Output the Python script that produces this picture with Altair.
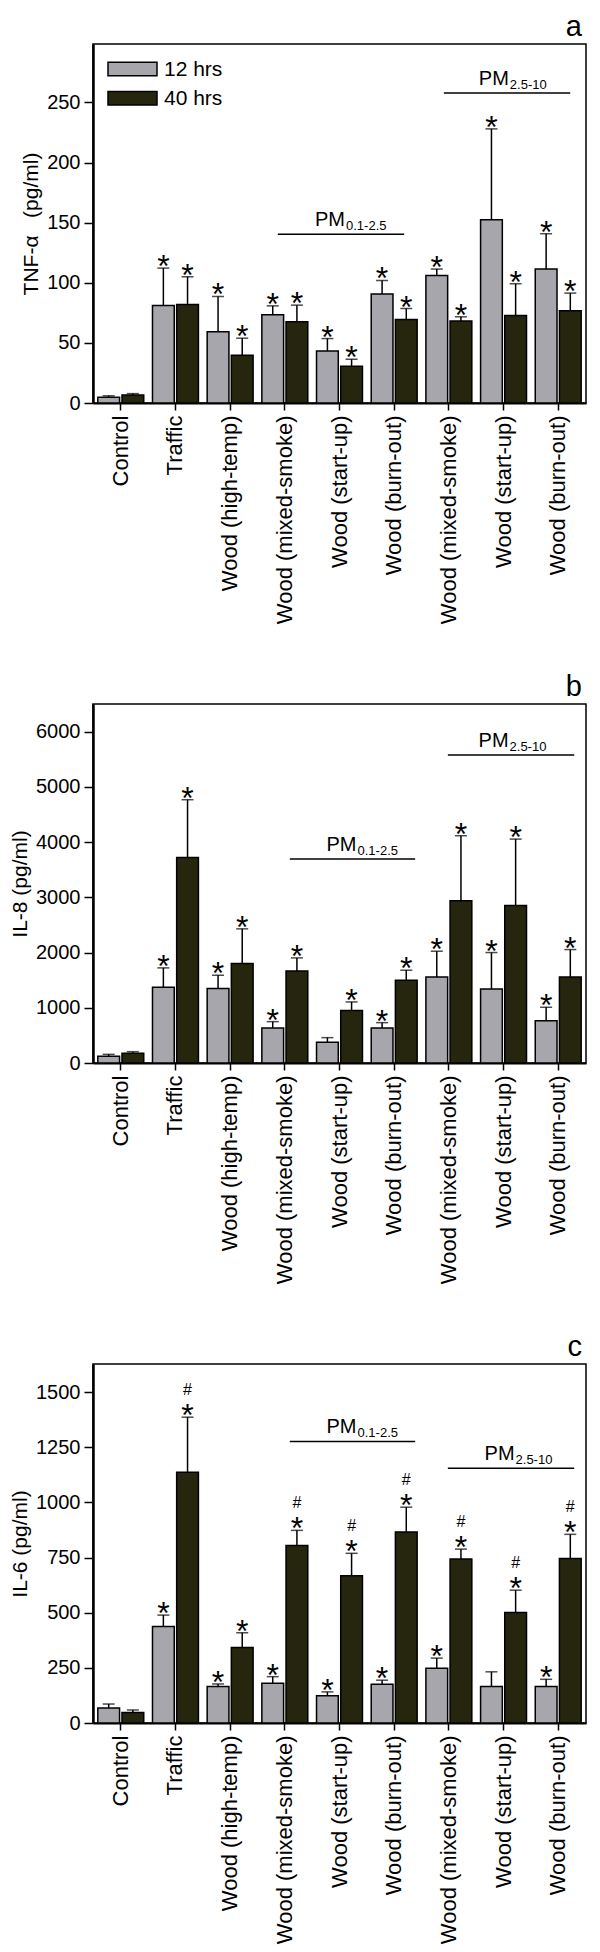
import json
import altair as alt
import pandas as pd

# ---------------- data ----------------
categories = ["Control", "Traffic", "Wood (high-temp)", "Wood (mixed-smoke)",
              "Wood (start-up)", "Wood (burn-out)", "Wood (mixed-smoke)",
              "Wood (start-up)", "Wood (burn-out)"]
series_names = ["12 hrs", "40 hrs"]

# Panel a: TNF-alpha (pg/ml)
tnf_12 = [4.7, 81.1, 59.2, 73.3, 43.3, 90.6, 106.1, 152.5, 111.4]
tnf_12_err = [1.3, 31.1, 29.4, 7.5, 10.3, 11.3, 5.3, 75.5, 29.4]
tnf_40 = [6.7, 81.9, 39.7, 67.5, 30.6, 69.4, 68.3, 72.8, 76.7]
tnf_40_err = [1.1, 23.1, 14.2, 13.9, 5.8, 9.2, 3.4, 26.4, 14.7]
tnf_star_12 = [0, 1, 1, 1, 1, 1, 1, 1, 1]
tnf_star_40 = [0, 1, 1, 1, 1, 1, 1, 1, 1]
tnf_hash_40 = [0, 0, 0, 0, 0, 0, 0, 0, 0]
tnf_ticks = [0, 50, 100, 150, 200, 250]
tnf_max = 298.6

# Panel b: IL-8 (pg/ml)
il8_12 = [121, 1372, 1347, 634, 375, 634, 1559, 1341, 767]
il8_12_err = [36, 350, 242, 115, 84, 97, 465, 659, 242]
il8_40 = [175, 3722, 1801, 1668, 949, 1498, 2937, 2852, 1559]
il8_40_err = [30, 1045, 628, 235, 157, 182, 1178, 1202, 495]
il8_star_12 = [0, 1, 1, 1, 0, 1, 1, 1, 1]
il8_star_40 = [0, 1, 1, 1, 1, 1, 1, 1, 1]
il8_hash_40 = [0, 0, 0, 0, 0, 0, 0, 0, 0]
il8_ticks = [0, 1000, 2000, 3000, 4000, 5000, 6000]
il8_max = 6500

# Panel c: IL-6 (pg/ml)
il6_12 = [68, 437, 165, 180, 123, 176, 248, 165, 165]
il6_12_err = [18, 52, 12, 30, 18, 18, 46, 67, 33]
il6_40 = [48, 1136, 342, 805, 667, 866, 743, 501, 746]
il6_40_err = [11, 250, 67, 68, 102, 112, 45, 101, 109]
il6_star_12 = [0, 1, 1, 1, 1, 1, 1, 0, 1]
il6_star_40 = [0, 1, 1, 1, 1, 1, 1, 1, 1]
il6_hash_40 = [0, 1, 0, 1, 1, 1, 1, 1, 1]
il6_ticks = [0, 250, 500, 750, 1000, 1250, 1500]
il6_max = 1627

# size-fraction brackets: (subscript, first category index, last category index, level)
tnf_brackets = [("0.1-2.5", 3, 5, 140.3), ("2.5-10", 6, 8, 257.8)]
il8_brackets = [("0.1-2.5", 3, 5, 3692), ("2.5-10", 6, 8, 5577)]
il6_brackets = [("0.1-2.5", 3, 5, 1276), ("2.5-10", 6, 8, 1155)]

# ---------------- style ----------------
FONT = "Liberation Sans"
COLORS = ["#a6a6ac", "#26260f"]
W, H = 493, 359

label_expr = json.dumps(categories) + "[datum.value]"


def table(m12, e12, m40, e40, s12, s40, h40):
    rows = []
    for i in range(len(categories)):
        rows.append(dict(idx=i, series=series_names[0], mean=m12[i],
                         top=m12[i] + e12[i], star=s12[i], hash=0))
        rows.append(dict(idx=i, series=series_names[1], mean=m40[i],
                         top=m40[i] + e40[i], star=s40[i], hash=h40[i]))
    return pd.DataFrame(rows)


def panel(letter, df, ytitle, ymax, ticks, brackets, offs, show_legend):
    xscale = alt.Scale(paddingInner=0.16, paddingOuter=0.088)
    xenc = alt.X("idx:O", scale=xscale,
                 axis=alt.Axis(title=None, labelExpr=label_expr, labelAngle=-90,
                               labelFontSize=22, labelPadding=5, labelLimit=0,
                               tickSize=7, tickWidth=1.5, domainWidth=2))
    xoff = alt.XOffset("series:N", sort=series_names,
                       scale=alt.Scale(paddingInner=0.1, paddingOuter=0))
    yscale = alt.Scale(domain=[0, ymax], nice=False, zero=True)
    yenc = alt.Y("mean:Q", scale=yscale,
                 axis=alt.Axis(title=ytitle, values=ticks, grid=False, format="d",
                               labelFontSize=20, labelPadding=4, tickSize=9,
                               tickWidth=1.5, domainWidth=2.5, titleFontSize=21,
                               titleFontWeight="normal", titlePadding=5))
    fill = alt.Fill("series:N", sort=series_names,
                    scale=alt.Scale(domain=series_names, range=COLORS),
                    legend=None)

    base = alt.Chart(df)
    bars = base.mark_bar(stroke="black", strokeWidth=1.5, opacity=1).encode(
        x=xenc, xOffset=xoff, y=yenc, fill=fill)
    err = base.mark_rule(color="black", strokeWidth=1.5).encode(
        x=xenc, xOffset=xoff, y=alt.Y("mean:Q", scale=yscale), y2="top:Q")
    cap = base.mark_tick(color="black", thickness=1.5, size=12).encode(
        x=xenc, xOffset=xoff, y=alt.Y("top:Q", scale=yscale))
    stars = base.transform_filter("datum.star == 1").mark_text(
        text="*", fontSize=32, baseline="alphabetic", dy=9, color="black").encode(
        x=xenc, xOffset=xoff, y=alt.Y("top:Q", scale=yscale))
    hashes = base.transform_filter("datum.hash == 1").mark_text(
        text="#", fontSize=16, baseline="middle", dy=-27, color="black").encode(
        x=xenc, xOffset=xoff, y=alt.Y("top:Q", scale=yscale))

    layers = [err, cap, bars, stars, hashes]
    for (sub, a, b, lvl), (o1, o2, oj) in zip(brackets, offs):
        bdf = pd.DataFrame([dict(start=a, end=b, mid=(a + b) // 2, level=lvl,
                                 sub=sub, pm="PM")])
        bb = alt.Chart(bdf)
        rule = bb.mark_rule(color="black", strokeWidth=1.5, xOffset=o1,
                            x2Offset=o2).encode(
            x=alt.X("start:O", scale=xscale),
            x2="end:O", y=alt.Y("level:Q", scale=yscale))
        pm = bb.mark_text(align="right", baseline="alphabetic", fontSize=20,
                          dx=oj, dy=-8, color="black").encode(
            x="mid:O", y=alt.Y("level:Q", scale=yscale), text="pm:N")
        subt = bb.mark_text(align="left", baseline="alphabetic", fontSize=13,
                            dx=oj + 1, dy=-4, color="black").encode(
            x="mid:O", y=alt.Y("level:Q", scale=yscale), text="sub:N")
        layers += [rule, pm, subt]

    if show_legend:
        for i, name in enumerate(series_names):
            ldf = pd.DataFrame({"label": [name]})
            yc = 25 + 29.3 * i
            sym = alt.Chart(ldf).mark_rect(fill=COLORS[i], stroke="black",
                                           strokeWidth=1.5).encode(
                x=alt.value(15), x2=alt.value(64),
                y=alt.value(yc - 6.7), y2=alt.value(yc + 6.7))
            lab = alt.Chart(ldf).mark_text(align="left", baseline="middle",
                                           fontSize=21, color="black").encode(
                x=alt.value(71), y=alt.value(yc + 1), text="label:N")
            layers += [sym, lab]

    return alt.layer(*layers).properties(
        width=W, height=H,
        title=alt.TitleParams(letter, anchor="end", fontSize=29, font=FONT,
                              fontWeight="normal", offset=2, dx=-4, color="black"))


pa = panel("a", table(tnf_12, tnf_12_err, tnf_40, tnf_40_err, tnf_star_12,
                      tnf_star_40, tnf_hash_40),
           "TNF-\u03b1\u00a0\u00a0\u00a0(pg/ml)", tnf_max, tnf_ticks, tnf_brackets,
           [(-7, 10, 5.5), (-5, 12, 5.3)], True)
pb = panel("b", table(il8_12, il8_12_err, il8_40, il8_40_err, il8_star_12,
                      il8_star_40, il8_hash_40),
           "IL-8 (pg/ml)", il8_max, il8_ticks, il8_brackets,
           [(5, 21, 17), (-1, 16, 5)], False)
pc = panel("c", table(il6_12, il6_12_err, il6_40, il6_40_err, il6_star_12,
                      il6_star_40, il6_hash_40),
           "IL-6 (pg/ml)", il6_max, il6_ticks, il6_brackets,
           [(5, 21, 17), (-1, 16, 11)], False)

chart = alt.vconcat(pa, pb, pc, spacing=47).resolve_scale(
    y="independent").properties(
    padding={"left": 0, "top": 4, "right": 0, "bottom": 0}
).configure(font=FONT).configure_view(
    stroke="black", strokeWidth=1.5
).configure_axis(
    labelColor="black", titleColor="black", domainColor="black", tickColor="black",
    labelFont=FONT, titleFont=FONT
)

chart.save("out.html", embed_options={"renderer": "svg", "actions": False})
